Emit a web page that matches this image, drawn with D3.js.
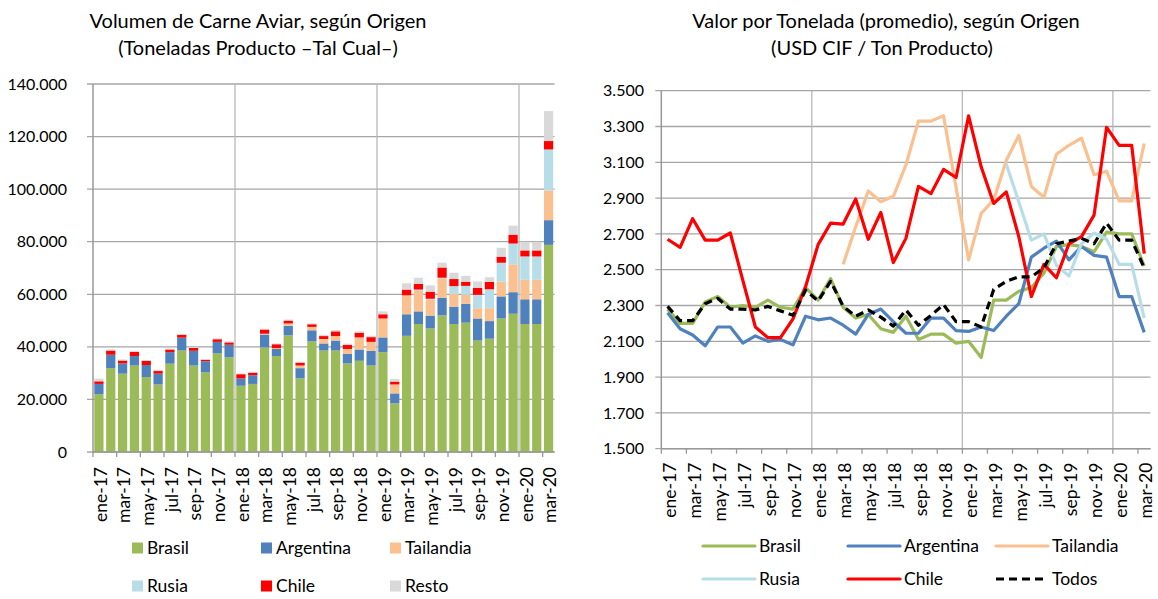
<!DOCTYPE html>
<html>
<head>
<meta charset="utf-8">
<script src="https://cdn.jsdelivr.net/npm/d3@7"></script>
<style>
  body { margin: 0; background: #fff; }
  svg { font-family: Lato, "Open Sans", sans-serif; }
</style>
</head>
<body>
<svg width="1158" height="599"></svg>
<script>
// meses
const months = ["ene-17","feb-17","mar-17","abr-17","may-17","jun-17","jul-17","ago-17","sep-17","oct-17","nov-17","dic-17",
  "ene-18","feb-18","mar-18","abr-18","may-18","jun-18","jul-18","ago-18","sep-18","oct-18","nov-18","dic-18",
  "ene-19","feb-19","mar-19","abr-19","may-19","jun-19","jul-19","ago-19","sep-19","oct-19","nov-19","dic-19",
  "ene-20","feb-20","mar-20"];

// volumen (toneladas)
const brasilVol = [22000,31900,29800,32900,28500,25700,33600,38600,32900,30300,37500,36000,
  25200,25900,39800,36500,44400,28000,42100,38600,38600,33700,34700,32900,
  38000,18500,44200,48700,47000,52000,48700,49200,42400,43100,50800,52600,
  48700,48700,78800];
const argentinaVol = [3900,5100,3900,3600,4600,4100,4400,4900,5600,4200,4400,4800,
  2800,3300,4900,2700,3600,3900,4200,2700,3800,3600,4300,5600,
  5600,3800,8200,4800,4900,6600,6600,7200,8400,6700,8400,8200,
  9400,9400,9400];
const tailandiaVol = [0,0,0,0,0,0,0,0,0,0,0,0,
  0,0,300,300,900,1000,1300,1700,1700,1900,4600,3400,
  7200,3400,7200,8000,6100,7400,4900,3400,3900,4900,5600,10600,
  7400,7400,11300];
const rusiaVol = [0,0,0,0,0,0,0,0,0,0,0,0,
  0,0,0,0,0,0,0,0,0,0,0,0,
  0,0,0,300,300,300,2900,3400,5100,7200,7200,7900,
  8900,8900,15600];
const chileVol = [1000,1600,1100,1600,1600,1000,1000,1100,1100,600,1000,900,
  1600,1000,1600,1500,1100,1100,1000,1100,1800,1500,1800,1800,
  1600,1100,2200,2200,2700,3900,2700,1600,2700,2800,2300,3400,
  2300,2300,3200];
const restoVol = [1000,400,400,400,300,500,400,300,400,300,400,400,
  300,300,300,300,400,300,300,500,500,500,500,500,
  1100,1000,2400,2300,2400,1800,2400,2200,2400,1800,3400,3400,
  3300,3300,11400];

// valor por tonelada (USD CIF / ton)
const brasilPrice = [2280,2200,2200,2320,2350,2290,2300,2290,2330,2290,2280,2400,
  2330,2450,2290,2230,2250,2170,2150,2240,2110,2140,2140,2090,
  2100,2010,2330,2330,2380,2400,2480,2630,2640,2630,2600,2710,
  2700,2700,2520];
const argentinaPrice = [2260,2170,2135,2075,2180,2180,2090,2130,2100,2110,2080,2240,
  2220,2230,2190,2140,2250,2280,2210,2145,2145,2230,2230,2160,
  2155,2180,2160,2240,2310,2570,2620,2660,2555,2630,2580,2570,
  2350,2350,2150];
const tailandiaPrice = [null,null,null,null,null,null,null,null,null,null,null,null,
  null,null,2530,2740,2940,2880,2910,3085,3330,3330,3360,2960,
  2555,2815,2890,3110,3250,2965,2905,3145,3195,3235,3030,3050,
  2885,2885,3205];
const rusiaPrice = [null,null,null,null,null,null,null,null,null,null,null,null,
  null,null,null,null,null,null,null,null,null,null,null,null,
  null,null,null,3090,2880,2665,2700,2525,2465,2645,2705,2670,
  2530,2530,2230];
const chilePrice = [2670,2625,2785,2665,2665,2705,2440,2180,2120,2120,2225,2405,
  2640,2760,2755,2895,2670,2820,2540,2675,2965,2925,3060,3015,
  3360,3075,2870,2935,2685,2350,2530,2455,2645,2685,2805,3295,
  3195,3195,2590];
const todosPrice = [2295,2215,2215,2310,2340,2280,2280,2275,2295,2270,2245,2385,
  2325,2435,2295,2240,2275,2235,2185,2275,2190,2245,2305,2210,
  2210,2180,2390,2435,2460,2460,2510,2645,2660,2675,2645,2760,
  2665,2665,2510];

const volTicks = [0,20000,40000,60000,80000,100000,120000,140000];
const priceTicks = [1500,1700,1900,2100,2300,2500,2700,2900,3100,3300,3500];

const fmt = d3.formatLocale({decimal: ",", thousands: ".", grouping: [3], currency: ["$", ""]}).format(",.0f");

const svg = d3.select("svg");
svg.append("rect").attr("width", 1158).attr("height", 599).attr("fill", "#fff");

const gridColor = "#a6a6a6";
const vGridColor = "#b8b8b8";
const textColor = "#000";
const labelSize = 17.5;

// ---------- grafico izquierdo: volumen apilado ----------
const volSeries = [
  {name: "Brasil", color: "#9bbb59", values: brasilVol},
  {name: "Argentina", color: "#4f81bd", values: argentinaVol},
  {name: "Tailandia", color: "#fac090", values: tailandiaVol},
  {name: "Rusia", color: "#b7dee8", values: rusiaVol},
  {name: "Chile", color: "#ff0000", values: chileVol},
  {name: "Resto", color: "#d9d9d9", values: restoVol}
];

const L = {left: 93, right: 554.5, top: 84, bottom: 452};
const x1 = d3.scaleBand().domain(months).range([L.left, L.right]).paddingInner(0.22).paddingOuter(0.11);
const y1 = d3.scaleLinear().domain([0, 140000]).range([L.bottom, L.top]);
const step1 = x1.step();
const edge1 = i => L.left + i * step1;

const left = svg.append("g");

left.selectAll("line.hgrid").data(volTicks).join("line")
  .attr("x1", L.left - 6).attr("x2", L.right)
  .attr("y1", d => y1(d)).attr("y2", d => y1(d))
  .attr("stroke", gridColor).attr("stroke-width", 1.3);

left.selectAll("line.vgrid").data([12, 24, 36]).join("line")
  .attr("x1", d => edge1(d)).attr("x2", d => edge1(d))
  .attr("y1", L.top).attr("y2", L.bottom)
  .attr("stroke", vGridColor).attr("stroke-width", 1.3);

const tableVol = months.map((m, i) => {
  const row = {month: m};
  volSeries.forEach(s => row[s.name] = s.values[i]);
  return row;
});
const stacked = d3.stack().keys(volSeries.map(s => s.name))(tableVol);

left.append("g").selectAll("g").data(stacked).join("g")
  .attr("fill", (d, i) => volSeries[i].color)
  .selectAll("rect").data(d => d).join("rect")
  .attr("x", d => x1(d.data.month))
  .attr("width", x1.bandwidth())
  .attr("y", d => y1(d[1]))
  .attr("height", d => y1(d[0]) - y1(d[1]));

// ejes
left.append("line").attr("x1", L.left).attr("x2", L.left).attr("y1", L.top).attr("y2", L.bottom)
  .attr("stroke", "#999").attr("stroke-width", 1.5);
left.append("line").attr("x1", L.left).attr("x2", L.right).attr("y1", L.bottom).attr("y2", L.bottom)
  .attr("stroke", "#999").attr("stroke-width", 1.5);
left.selectAll("line.xt").data(d3.range(0, 39, 2)).join("line")
  .attr("x1", d => edge1(d)).attr("x2", d => edge1(d))
  .attr("y1", L.bottom).attr("y2", L.bottom + 5)
  .attr("stroke", "#999").attr("stroke-width", 1.3);

left.selectAll("text.yl").data(volTicks).join("text")
  .attr("x", 67).attr("y", d => y1(d)).attr("dy", "0.35em")
  .attr("text-anchor", "end").attr("font-size", 16).attr("fill", textColor)
  .text(d => fmt(d));

left.selectAll("text.xl").data(months.filter((m, i) => i % 2 === 0)).join("text")
  .attr("transform", d => `translate(${x1(d) + x1.bandwidth() / 2 + 1.5},${L.bottom + 15}) rotate(-90)`)
  .attr("dy", "0.35em").attr("text-anchor", "end").attr("font-size", labelSize).attr("fill", textColor)
  .text(d => d);

// leyenda
const legX1 = [132, 261, 390];
const legY1 = [548, 586];
const legL = left.selectAll("g.leg").data(volSeries).join("g")
  .attr("transform", (d, i) => `translate(${legX1[i % 3]},${legY1[Math.floor(i / 3)]})`);
legL.append("rect").attr("x", 0).attr("y", -5.5).attr("width", 11).attr("height", 11).attr("fill", d => d.color);
legL.append("text").attr("x", 15).attr("dy", "0.35em").attr("font-size", labelSize).attr("fill", textColor).text(d => d.name);

// titulo
left.append("text").attr("x", 258).attr("y", 28).attr("text-anchor", "middle").attr("font-size", 20)
  .text("Volumen de Carne Aviar, según Origen");
left.append("text").attr("x", 258).attr("y", 55).attr("text-anchor", "middle").attr("font-size", 20)
  .text("(Toneladas Producto \u2013Tal Cual\u2013)");

// ---------- grafico derecho: valor por tonelada ----------
const priceSeries = [
  {name: "Brasil", color: "#9bbb59", values: brasilPrice, dash: null},
  {name: "Argentina", color: "#4f81bd", values: argentinaPrice, dash: null},
  {name: "Tailandia", color: "#fac090", values: tailandiaPrice, dash: null},
  {name: "Rusia", color: "#b7dee8", values: rusiaPrice, dash: null},
  {name: "Chile", color: "#ff0000", values: chilePrice, dash: null},
  {name: "Todos", color: "#000000", values: todosPrice, dash: "8,5"}
];

const R = {left: 661.3, right: 1150.5, top: 90.7, bottom: 448.7};
const x2 = d3.scaleBand().domain(months).range([R.left, R.right]);
const y2 = d3.scaleLinear().domain([1500, 3500]).range([R.bottom, R.top]);
const step2 = x2.step();
const edge2 = i => R.left + i * step2;

const right = svg.append("g");

right.selectAll("line.hgrid").data(priceTicks).join("line")
  .attr("x1", R.left - 6).attr("x2", R.right)
  .attr("y1", d => y2(d)).attr("y2", d => y2(d))
  .attr("stroke", gridColor).attr("stroke-width", 1.3);

right.selectAll("line.vgrid").data([12, 24, 36]).join("line")
  .attr("x1", d => edge2(d)).attr("x2", d => edge2(d))
  .attr("y1", R.top).attr("y2", R.bottom)
  .attr("stroke", vGridColor).attr("stroke-width", 1.3);

right.append("line").attr("x1", R.left).attr("x2", R.left).attr("y1", R.top).attr("y2", R.bottom)
  .attr("stroke", "#999").attr("stroke-width", 1.5);
right.append("line").attr("x1", R.left).attr("x2", R.right).attr("y1", R.bottom).attr("y2", R.bottom)
  .attr("stroke", "#999").attr("stroke-width", 1.5);
right.selectAll("line.xt").data(d3.range(0, 39, 2)).join("line")
  .attr("x1", d => edge2(d)).attr("x2", d => edge2(d))
  .attr("y1", R.bottom).attr("y2", R.bottom + 5)
  .attr("stroke", "#999").attr("stroke-width", 1.3);

const line = d3.line()
  .defined(d => d.v != null)
  .x(d => x2(d.m) + step2 / 2)
  .y(d => y2(d.v));

right.selectAll("path.series").data(priceSeries).join("path")
  .attr("fill", "none")
  .attr("stroke", d => d.color)
  .attr("stroke-width", 3.2)
  .attr("stroke-linejoin", "round")
  .attr("stroke-dasharray", d => d.dash)
  .attr("d", d => line(d.values.map((v, i) => ({m: months[i], v}))));

right.selectAll("text.yl").data(priceTicks).join("text")
  .attr("x", 644).attr("y", d => y2(d)).attr("dy", "0.35em")
  .attr("text-anchor", "end").attr("font-size", 16).attr("fill", textColor)
  .text(d => fmt(d));

right.selectAll("text.xl").data(months.filter((m, i) => i % 2 === 0)).join("text")
  .attr("transform", d => `translate(${x2(d) + step2 / 2 + 2},${R.bottom + 14}) rotate(-90)`)
  .attr("dy", "0.35em").attr("text-anchor", "end").attr("font-size", labelSize).attr("fill", textColor)
  .text(d => d);

const legX2 = [703, 848, 996];
const legY2 = [546, 579];
const legR = right.selectAll("g.leg").data(priceSeries).join("g")
  .attr("transform", (d, i) => `translate(${legX2[i % 3]},${legY2[Math.floor(i / 3)]})`);
legR.append("line").attr("x1", 0).attr("x2", 52).attr("y1", 0).attr("y2", 0)
  .attr("stroke", d => d.color).attr("stroke-width", 3.2)
  .attr("stroke-linecap", d => d.dash ? "butt" : "round")
  .attr("stroke-dasharray", d => d.dash);
legR.append("text").attr("x", 56).attr("dy", "0.35em").attr("font-size", labelSize).attr("fill", textColor).text(d => d.name);

right.append("text").attr("x", 886).attr("y", 28).attr("text-anchor", "middle").attr("font-size", 20)
  .text("Valor por Tonelada (promedio), según Origen");
right.append("text").attr("x", 882).attr("y", 55).attr("text-anchor", "middle").attr("font-size", 20)
  .text("(USD CIF / Ton Producto)");
</script>
</body>
</html>
